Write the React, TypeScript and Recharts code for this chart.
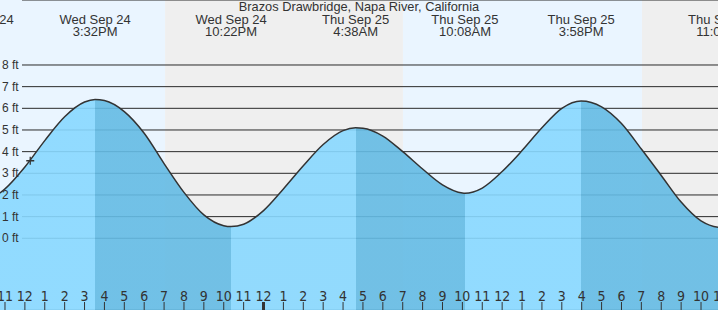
import React from 'react';
import {
  ComposedChart,
  Area,
  Line,
  XAxis,
  YAxis,
  CartesianGrid,
  ReferenceArea,
  ReferenceLine,
  ReferenceDot
} from 'recharts';

// hours since Wed Sep 24 00:00, tide height in ft
const hours = [9, 10, 11, 12, 13, 14, 15, 16, 17, 18, 19, 20, 21, 22, 23, 24, 25, 26, 27, 28,
  29, 30, 31, 32, 33, 34, 35, 36, 37, 38, 39, 41, 42, 43, 44, 45, 46, 48];
const heights = [1.74, 1.73, 2.28, 3.29, 4.51, 5.61, 6.29, 6.36, 5.85, 4.85, 3.45, 2.12, 1.08, 0.58,
  0.65, 1.28, 2.28, 3.35, 4.33, 4.97, 5.08, 4.72, 4.0, 3.2, 2.47, 2.09, 2.32, 3.08, 4.05, 5.1,
  6.0, 6.07, 5.3, 4.12, 2.9, 1.67, 0.8, 0.6];

// high / low tides
const extremeTimes = [9.64, 15.53, 22.37, 28.63, 34.13, 39.97, 47.04];
const extremeHeights = [1.69, 6.41, 0.54, 5.1, 2.08, 6.34, 0.5];
const extremeKinds = ['L', 'H', 'L', 'H', 'L', 'H', 'L'];
const extremeDays = ['Wed Sep 24', 'Wed Sep 24', 'Wed Sep 24', 'Thu Sep 25', 'Thu Sep 25', 'Thu Sep 25', 'Thu Sep 25'];
const extremeClock = ['9:38AM', '3:32PM', '10:22PM', '4:38AM', '10:08AM', '3:58PM', '11:02PM'];

const dayBands = [[9, 19.05], [31.01, 43.03]];
const nightBands = [[19.05, 31.01], [43.03, 48]];

const nowTime = 12.27;
const nowHeight = 3.58;

const xDomain = [10.749, 46.854];
const yDomain = [-3.31, 11.0];
const hourTicks = [11, 12, 13, 14, 15, 16, 17, 18, 19, 20, 21, 22, 23, 24, 25, 26, 27, 28, 29,
  30, 31, 32, 33, 34, 35, 36, 37, 38, 39, 40, 41, 42, 43, 44, 45, 46, 47];
const ftTicks = [0, 1, 2, 3, 4, 5, 6, 7, 8];

const TITLE = 'Brazos Drawbridge, Napa River, California';
const FONT = '"Liberation Sans", Arial, sans-serif';

const data = hours
  .map((t, i) => ({ t, h: heights[i] }))
  .concat(extremeTimes.map((t, i) => ({ t, h: extremeHeights[i] })))
  .sort((a, b) => a.t - b.t);

const RISING = '#88d8ff';
const FALLING = '#64bbe4';

// gradient stops switch colour at every high / low
const tMin = data[0].t;
const tMax = data[data.length - 1].t;
const stops: { offset: number; color: string }[] = [];
let cur = extremeKinds[0] === 'L' ? FALLING : RISING;
stops.push({ offset: 0, color: cur });
extremeTimes.forEach((t, i) => {
  const o = (t - tMin) / (tMax - tMin);
  stops.push({ offset: o, color: cur });
  cur = extremeKinds[i] === 'L' ? RISING : FALLING;
  stops.push({ offset: o, color: cur });
});
stops.push({ offset: 1, color: cur });

function HourTick(props: any) {
  const { x, payload } = props;
  const v = payload.value;
  const label = v % 12 === 0 ? 12 : v % 12;
  const midnight = v % 24 === 0;
  return (
    <g>
      <line x1={x} x2={x} y1={302} y2={310} stroke="#333" strokeWidth={midnight ? 3 : 1} />
      <text
        x={x}
        y={301}
        textAnchor="middle"
        fill="#333"
        style={{ fontFamily: '"Liberation Sans Narrow", "DejaVu Sans Condensed", sans-serif', fontSize: 14 }}
      >
        {label}
      </text>
    </g>
  );
}

function FtTick(props: any) {
  const { y, payload } = props;
  return (
    <text x={2} y={y + 4} textAnchor="start" fill="#333" style={{ fontFamily: FONT, fontSize: 12 }}>
      {payload.value} ft
    </text>
  );
}

function EventLabel(props: any) {
  const { viewBox, day, clock } = props;
  const x = viewBox ? viewBox.x : 0;
  return (
    <g style={{ fontFamily: FONT, fontSize: 13 }} fill="#333">
      <text x={x} y={24} textAnchor="middle" fill="#333">{day}</text>
      <text x={x} y={36} textAnchor="middle" fill="#333">{clock}</text>
    </g>
  );
}

function NowMark(props: any) {
  const { cx, cy } = props;
  return (
    <path d={`M${cx - 4},${cy}h8M${cx},${cy - 4}v8`} stroke="#333" strokeWidth={1.3} fill="none" />
  );
}

export default function App() {
  return (
    <div style={{ position: 'absolute', left: 0, top: 0, width: 718, height: 310, overflow: 'hidden' }}>
      <ComposedChart width={718} height={310} data={data} margin={{ top: 0, right: 0, bottom: 0, left: 0 }}>
        <defs>
          <linearGradient id="tideFill" x1="0" y1="0" x2="1" y2="0">
            {stops.map((s, i) => (
              <stop key={i} offset={s.offset} stopColor={s.color} />
            ))}
          </linearGradient>
        </defs>
        <XAxis
          dataKey="t"
          type="number"
          domain={xDomain}
          allowDataOverflow
          ticks={hourTicks}
          interval={0}
          mirror
          height={30}
          axisLine={false}
          tickLine={false}
          tick={<HourTick />}
        />
        <YAxis
          type="number"
          domain={yDomain}
          allowDataOverflow
          ticks={ftTicks}
          interval={0}
          mirror
          width={30}
          axisLine={false}
          tickLine={false}
          tick={<FtTick />}
        />
        {dayBands.map((b, i) => (
          <ReferenceArea key={'d' + i} x1={b[0]} x2={b[1]} fill="#eaf5ff" fillOpacity={1} ifOverflow="hidden" zIndex={-300} />
        ))}
        {nightBands.map((b, i) => (
          <ReferenceArea key={'n' + i} x1={b[0]} x2={b[1]} fill="#efefef" fillOpacity={1} ifOverflow="hidden" zIndex={-300} />
        ))}
        <CartesianGrid vertical={false} stroke="#2a2a2a" x={22} width={696} zIndex={-200} />
        <Area
          dataKey="h"
          type="monotone"
          baseValue="dataMin"
          fill="url(#tideFill)"
          fillOpacity={0.9}
          stroke="none"
          isAnimationActive={false}
        />
        <Line
          dataKey="h"
          type="monotone"
          stroke="#333"
          strokeWidth={1.5}
          dot={false}
          activeDot={false}
          isAnimationActive={false}
        />
        <ReferenceDot x={nowTime} y={nowHeight} shape={<NowMark />} ifOverflow="visible" />
        {extremeTimes.map((t, i) => (
          <ReferenceLine
            key={'e' + i}
            x={t}
            stroke="none"
            ifOverflow="visible"
            label={<EventLabel day={extremeDays[i]} clock={extremeClock[i]} />}
          />
        ))}
      </ComposedChart>
      <div
        style={{
          position: 'absolute',
          left: 0,
          top: 0,
          width: 718,
          textAlign: 'center',
          fontFamily: FONT,
          fontSize: 12.8,
          color: '#333',
          lineHeight: '14px'
        }}
      >
        {TITLE}
      </div>
    </div>
  );
}
